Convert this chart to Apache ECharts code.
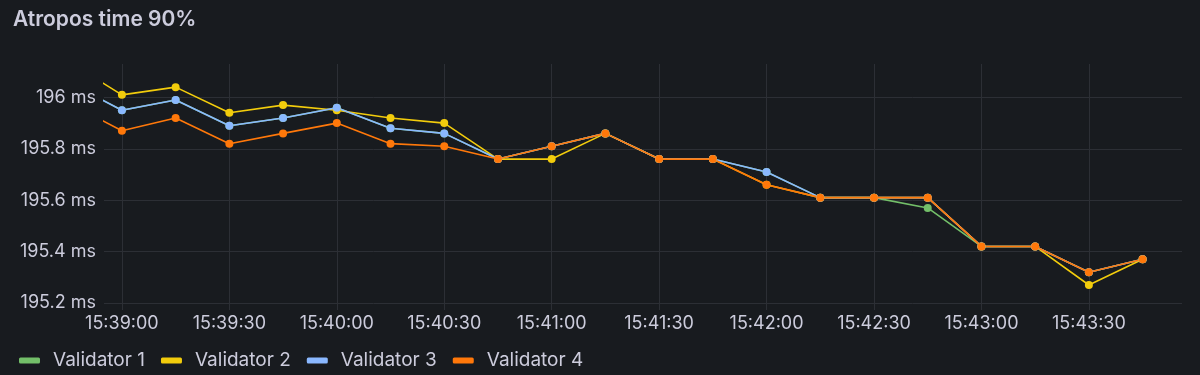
<!DOCTYPE html>
<html>
<head>
<meta charset="utf-8">
<title>Atropos time 90%</title>
<script src="https://cdn.jsdelivr.net/npm/echarts@6/dist/echarts.min.js"></script>
<style>
  html, body { margin: 0; padding: 0; background: #181b1f; }
  #chart { width: 1200px; height: 375px; }
</style>
</head>
<body>
<div id="chart"></div>
<script>
// sample times, one every 15s; the first one sits just left of the visible range
const times = ['15:38:45', '15:39:00', '15:39:15', '15:39:30', '15:39:45', '15:40:00', '15:40:15',
  '15:40:30', '15:40:45', '15:41:00', '15:41:15', '15:41:30', '15:41:45', '15:42:00', '15:42:15',
  '15:42:30', '15:42:45', '15:43:00', '15:43:15', '15:43:30', '15:43:45'];

const validator1 = [196.06, 195.95, 195.99, 195.89, 195.92, 195.96, 195.88, 195.86, 195.76, 195.81, 195.86,
  195.76, 195.76, 195.71, 195.61, 195.61, 195.57, 195.42, 195.42, 195.32, 195.37];
const validator2 = [196.14, 196.01, 196.04, 195.94, 195.97, 195.95, 195.92, 195.90, 195.76, 195.76, 195.86,
  195.76, 195.76, 195.66, 195.61, 195.61, 195.61, 195.42, 195.42, 195.27, 195.37];
const validator3 = [196.06, 195.95, 195.99, 195.89, 195.92, 195.96, 195.88, 195.86, 195.76, 195.81, 195.86,
  195.76, 195.76, 195.71, 195.61, 195.61, 195.61, 195.42, 195.42, 195.32, 195.37];
const validator4 = [195.98, 195.87, 195.92, 195.82, 195.86, 195.90, 195.82, 195.81, 195.76, 195.81, 195.86,
  195.76, 195.76, 195.66, 195.61, 195.61, 195.61, 195.42, 195.42, 195.32, 195.37];

const xTicks = ['15:39:00', '15:39:30', '15:40:00', '15:40:30', '15:41:00',
  '15:41:30', '15:42:00', '15:42:30', '15:43:00', '15:43:30'];
const yTicks = [195.2, 195.4, 195.6, 195.8, 196];

const toSec = (s) => {
  const [h, m, sec] = s.split(':').map(Number);
  return h * 3600 + m * 60 + sec;
};
const pad = (n) => String(n).padStart(2, '0');
const fmtTime = (v) => pad(Math.floor(v / 3600)) + ':' + pad(Math.floor(v / 60) % 60) + ':' + pad(v % 60);

const textColor = '#ccccdc';
const gridColor = '#2c2f35';
const font = 'Inter';

const makeSeries = (name, values, color) => ({
  name: name,
  type: 'line',
  data: times.map((t, i) => [toSec(t), values[i]]),
  color: color,
  symbol: 'circle',
  symbolSize: 8,
  showAllSymbol: true,
  lineStyle: { width: 1.6, color: color },
  itemStyle: { color: color },
  emphasis: { disabled: true },
  clip: true,
  animation: false
});

const chart = echarts.init(document.getElementById('chart'));
chart.setOption({
  backgroundColor: '#181b1f',
  animation: false,
  title: {
    text: 'Atropos time 90%',
    left: 8,
    top: 4,
    textStyle: { color: textColor, fontFamily: font, fontSize: 21, fontWeight: 600 }
  },
  legend: {
    left: 14,
    top: 346,
    icon: 'roundRect',
    itemWidth: 21,
    itemHeight: 6,
    itemGap: 16,
    textStyle: { color: textColor, fontFamily: font, fontSize: 19, padding: [0, 0, 0, 8] },
    data: ['Validator 1', 'Validator 2', 'Validator 3', 'Validator 4']
  },
  grid: { left: 104, right: 18, top: 64, bottom: 72, containLabel: false },
  xAxis: {
    type: 'value',
    min: toSec('15:38:55'),
    max: toSec('15:43:56'),
    axisLine: { show: false },
    axisTick: { show: true, length: 7, lineStyle: { color: gridColor }, customValues: xTicks.map(toSec) },
    axisLabel: {
      color: textColor, fontFamily: font, fontSize: 18, margin: 12,
      customValues: xTicks.map(toSec),
      formatter: (v) => fmtTime(v)
    },
    splitLine: { show: true, lineStyle: { color: gridColor, width: 1 } }
  },
  yAxis: {
    type: 'value',
    min: 195.2,
    max: 196.13,
    axisLine: { show: false },
    axisTick: { show: false, customValues: yTicks },
    axisLabel: {
      color: textColor, fontFamily: font, fontSize: 18, margin: 8,
      customValues: yTicks,
      formatter: (v) => (+v.toFixed(1)) + ' ms'
    },
    splitLine: { show: true, lineStyle: { color: gridColor, width: 1 } }
  },
  series: [
    makeSeries('Validator 1', validator1, '#73BF69'),
    makeSeries('Validator 2', validator2, '#F2CC0C'),
    makeSeries('Validator 3', validator3, '#8AB8FF'),
    makeSeries('Validator 4', validator4, '#FF780A')
  ]
});
</script>
</body>
</html>
